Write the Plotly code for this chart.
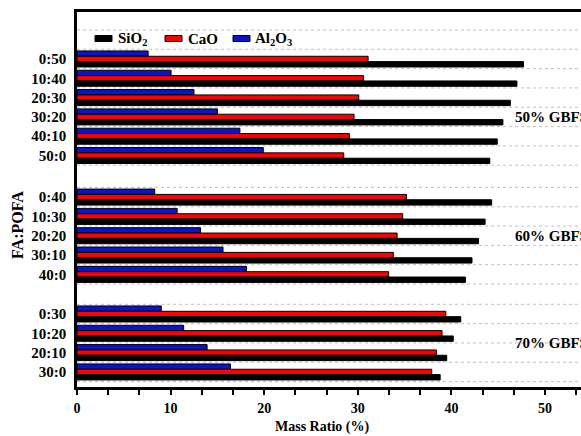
import plotly.graph_objects as go

# FA:POFA blend ratios for each GBFS replacement level
ratios_50 = ["0:50", "10:40", "20:30", "30:20", "40:10", "50:0"]
ratios_60 = ["0:40", "10:30", "20:20", "30:10", "40:0"]
ratios_70 = ["0:30", "10:20", "20:10", "30:0"]
group_labels = ["50% GBFS", "60% GBFS", "70% GBFS"]

# Oxide mass ratios (%)
sio2_50 = [47.7, 47.0, 46.3, 45.5, 44.9, 44.1]
sio2_60 = [44.3, 43.6, 42.9, 42.2, 41.5]
sio2_70 = [41.0, 40.2, 39.5, 38.8]

cao_50 = [31.1, 30.6, 30.1, 29.6, 29.1, 28.5]
cao_60 = [35.2, 34.8, 34.2, 33.8, 33.3]
cao_70 = [39.4, 39.0, 38.4, 37.9]

al2o3_50 = [7.6, 10.05, 12.5, 15.0, 17.4, 19.9]
al2o3_60 = [8.3, 10.7, 13.2, 15.6, 18.1]
al2o3_70 = [9.0, 11.4, 13.9, 16.4]

x_ticks = [0, 10, 20, 30, 40, 50]

# ---- layout geometry ----
W, H = 581, 436
ML, MR, MT, MB = 77, 0, 12, 49
FONT = "Liberation Serif"
GAPS = [2.15, 2.05]          # spacing (in rows) between the GBFS blocks

groups = [ratios_50, ratios_60, ratios_70]
positions, labels, block_pos = [], [], []
start = 0.0
for gi, g in enumerate(groups):
    pos = [start + i for i in range(len(g))]
    positions += pos
    labels += g
    block_pos.append(pos)
    if gi < len(GAPS):
        start = pos[-1] + GAPS[gi]

sio2 = sio2_50 + sio2_60 + sio2_70
cao = cao_50 + cao_60 + cao_70
al2o3 = al2o3_50 + al2o3_60 + al2o3_70

y_top, y_bot = -2.43, positions[-1] + 0.78


def px_x(px):
    return (px - ML) / (W - ML - MR)


def px_y(py):
    return 1 - (py - MT) / (H - MT - MB)


fig = go.Figure()
series = [
    ("Al<sub>2</sub>O<sub>3</sub>", al2o3, "#0a14c8"),
    ("CaO", cao, "#ff0000"),
    ("SiO<sub>2</sub>", sio2, "#000000"),
]
for name, vals, col in series:
    fig.add_trace(go.Bar(
        x=vals, y=positions, orientation="h", name=name,
        marker=dict(color=col, line=dict(color="black", width=1)),
        showlegend=False,
    ))

shapes = []
# dotted row separators (incl. legend row)
bounds = set()
for p in positions + [-1.0]:
    bounds.add(round(p - 0.5, 4))
    bounds.add(round(p + 0.5, 4))
for b in sorted(bounds):
    shapes.append(dict(type="line", xref="paper", yref="y", x0=0, x1=1, y0=b, y1=b,
                       line=dict(color="#c0c0c0", width=1, dash="dot"), layer="below"))

annotations = []
# hand-built legend row
legend_items = [("SiO<sub>2</sub>", "#000000", 95, 116),
                ("CaO", "#ff0000", 165, 186),
                ("Al<sub>2</sub>O<sub>3</sub>", "#0a14c8", 233, 253)]
for text, col, sx, tx in legend_items:
    shapes.append(dict(type="rect", xref="paper", yref="paper",
                       x0=px_x(sx), x1=px_x(sx + 17), y0=px_y(41.5), y1=px_y(35.5),
                       fillcolor=col, line=dict(color="black", width=1)))
    annotations.append(dict(text=text, xref="paper", yref="paper", x=px_x(tx), y=px_y(38.5),
                            xanchor="left", yanchor="middle", showarrow=False,
                            font=dict(family=FONT, size=15, color="black", weight="bold")))

# GBFS level labels on the right
label_rows = [block_pos[0][3], block_pos[1][2], (block_pos[2][1] + block_pos[2][2]) / 2]
for text, yv in zip(group_labels, label_rows):
    annotations.append(dict(text=text, xref="paper", yref="y", x=px_x(513), y=yv,
                            xanchor="left", yanchor="middle", showarrow=False,
                            font=dict(family=FONT, size=15, color="black", weight="bold")))

# axis titles
annotations.append(dict(text="FA:POFA", xref="paper", yref="paper", x=px_x(18), y=px_y(225),
                        textangle=-90, xanchor="center", yanchor="middle", showarrow=False,
                        font=dict(family=FONT, size=16, color="black", weight="bold")))
annotations.append(dict(text="Mass Ratio (%)", xref="paper", yref="paper", x=px_x(322), y=px_y(427),
                        xanchor="center", yanchor="middle", showarrow=False,
                        font=dict(family=FONT, size=14, color="black", weight="bold")))

fig.update_layout(
    width=W, height=H, autosize=False,
    margin=dict(l=ML, r=MR, t=MT, b=MB, pad=0),
    paper_bgcolor="white", plot_bgcolor="white",
    barmode="group", bargap=0.17, bargroupgap=0,
    shapes=shapes, annotations=annotations,
    xaxis=dict(
        range=[0, (W - ML - MR) / 9.36], showgrid=False, zeroline=False,
        showline=True, linecolor="black", linewidth=2.5, mirror=True,
        tickvals=x_ticks, ticktext=[str(v) for v in x_ticks],
        ticks="outside", ticklen=5, tickwidth=2, tickcolor="black",
        ticklabelstandoff=1,
        minor=dict(dtick=10 / 3, tick0=0, ticks="outside", ticklen=5, tickwidth=2, tickcolor="black"),
        tickfont=dict(family=FONT, size=14, color="black", weight="bold"),
    ),
    yaxis=dict(
        range=[y_bot, y_top], showgrid=False, zeroline=False,
        showline=True, linecolor="black", linewidth=2.5, mirror=False,
        tickvals=positions, ticktext=labels, ticks="",
        ticklabelstandoff=5,
        tickfont=dict(family=FONT, size=15, color="black", weight="bold"),
    ),
)

fig.write_html("out.html")
